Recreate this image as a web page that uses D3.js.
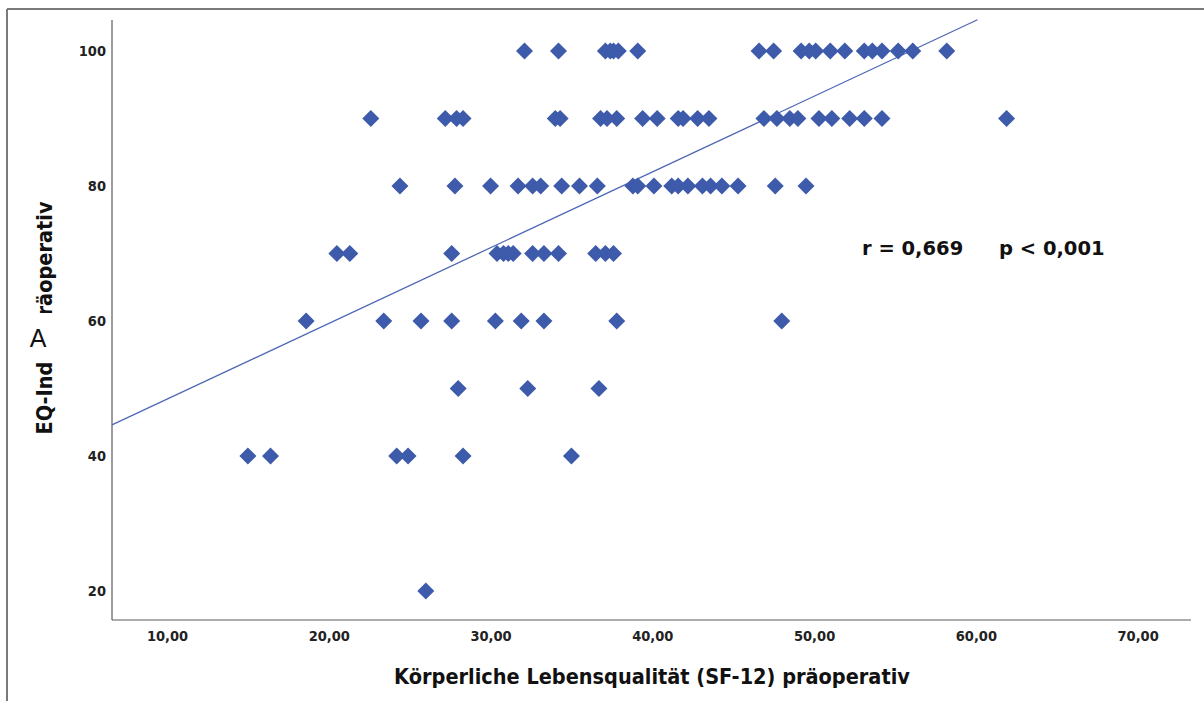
<!DOCTYPE html>
<html>
<head>
<meta charset="utf-8">
<script src="https://cdn.jsdelivr.net/npm/d3@7"></script>
<style>
  body { margin: 0; background: #fff; }
  svg { display: block; }
  .tick text { font-family: "DejaVu Sans Condensed", "DejaVu Sans", sans-serif; font-stretch: condensed; font-weight: bold; font-size: 14.5px; fill: #222; }
  .title { font-family: "DejaVu Sans Condensed", "DejaVu Sans", sans-serif; font-stretch: condensed; font-weight: bold; font-size: 21.5px; fill: #111; }
  .stat { font-family: "DejaVu Sans", sans-serif; font-weight: bold; font-size: 19.5px; fill: #111; }
</style>
</head>
<body>
<svg id="chart" width="1204" height="701"></svg>
<script>
// EQ-Index Stufen und die dazugehoerigen SF-12 Werte
const eqLevels = [100, 90, 80, 70, 60, 50, 40, 20];
const sf12At100 = [32.1, 34.2, 37.1, 37.4, 37.6, 37.9, 39.1, 46.6, 47.5, 49.2, 49.7, 50.1, 51.0, 51.9, 53.1, 53.6, 54.2, 55.2, 56.1, 58.2];
const sf12At90 = [22.6, 27.2, 27.9, 28.3, 34.0, 34.3, 36.8, 37.2, 37.8, 39.4, 40.3, 41.6, 41.9, 42.8, 43.5, 46.9, 47.7, 48.5, 49.0, 50.3, 51.1, 52.2, 53.1, 54.2, 61.9];
const sf12At80 = [24.4, 27.8, 30.0, 31.7, 32.6, 33.1, 34.4, 35.5, 36.6, 38.8, 39.1, 40.1, 41.2, 41.6, 42.2, 43.1, 43.6, 44.3, 45.3, 47.6, 49.5];
const sf12At70 = [20.5, 21.3, 27.6, 30.4, 30.8, 31.1, 31.4, 32.6, 33.3, 34.2, 36.5, 37.1, 37.6];
const sf12At60 = [18.6, 23.4, 25.7, 27.6, 30.3, 31.9, 33.3, 37.8, 48.0];
const sf12At50 = [28.0, 32.3, 36.7];
const sf12At40 = [15.0, 16.4, 24.2, 24.9, 28.3, 35.0];
const sf12At20 = [26.0];

const xTicks = [10, 20, 30, 40, 50, 60, 70];
const yTicks = [20, 40, 60, 80, 100];

// Regressionsgerade
const fitIntercept = 37.2;
const fitSlope = 1.122;
const fitRange = [6.6, 60.1];

const xTitle = "Körperliche Lebensqualität (SF-12) präoperativ";
const yTitle = "EQ-Index präoperativ";
const statR = "r = 0,669";
const statP = "p < 0,001";

// Punkte zusammenbauen
const rows = [sf12At100, sf12At90, sf12At80, sf12At70, sf12At60, sf12At50, sf12At40, sf12At20];
const points = [];
rows.forEach(function (row, i) {
    row.forEach(function (v) {
        points.push({ x: v, y: eqLevels[i] });
    });
});

const svg = d3.select("#chart");

const x = d3.scaleLinear().domain([6.6, 73.3]).range([112, 1191]);
const y = d3.scaleLinear().domain([15.7, 104.6]).range([620, 20]);

const de = d3.formatLocale({ decimal: ",", thousands: ".", grouping: [3], currency: ["", " €"] });

// Rahmen
svg.append("line").attr("x1", 7).attr("x2", 1204).attr("y1", 9).attr("y2", 9)
    .attr("stroke", "#7a7a7a").attr("stroke-width", 2);
svg.append("line").attr("x1", 7).attr("x2", 7).attr("y1", 9).attr("y2", 701)
    .attr("stroke", "#7a7a7a").attr("stroke-width", 2);

// Achsen
const xAxis = svg.append("g")
    .attr("transform", "translate(0,620)")
    .call(d3.axisBottom(x).tickValues(xTicks).tickSize(0).tickPadding(11).tickFormat(de.format(".2f")));
const yAxis = svg.append("g")
    .attr("transform", "translate(112,0)")
    .call(d3.axisLeft(y).tickValues(yTicks).tickSize(0).tickPadding(6).tickFormat(d3.format("d")));

[xAxis, yAxis].forEach(function (g) {
    g.select(".domain").attr("stroke", "#5a5a5a").attr("stroke-width", 1.2);
});
// Achsenlinien ohne Ueberstand
xAxis.select(".domain").attr("d", "M112,0H1191");
yAxis.select(".domain").attr("d", "M0,20V620");

// Regressionslinie
svg.append("line")
    .attr("x1", x(fitRange[0])).attr("y1", y(fitIntercept + fitSlope * fitRange[0]))
    .attr("x2", x(fitRange[1])).attr("y2", y(fitIntercept + fitSlope * fitRange[1]))
    .attr("stroke", "#4d68b6").attr("stroke-width", 1.3);

// Rauten
const r = 8.5;
svg.append("g").selectAll("path")
    .data(points)
    .enter().append("path")
    .attr("d", "M0," + (-r) + "L" + r + ",0L0," + r + "L" + (-r) + ",0Z")
    .attr("transform", function (d) { return "translate(" + x(d.x) + "," + y(d.y) + ")"; })
    .attr("fill", "#3d5aab");

// Achsentitel
svg.append("text").attr("class", "title")
    .attr("x", 652).attr("y", 684)
    .attr("text-anchor", "middle")
    .text(xTitle);
svg.append("text").attr("class", "title")
    .attr("transform", "translate(52,318) rotate(-90)")
    .attr("text-anchor", "middle")
    .text(yTitle);

// Statistik
svg.append("text").attr("class", "stat").attr("x", 862).attr("y", 255).text(statR);
svg.append("text").attr("class", "stat").attr("x", 999).attr("y", 255).text(statP);

// weisses Feld mit "A"
svg.append("rect").attr("x", 9).attr("y", 313).attr("width", 51).attr("height", 48).attr("fill", "#fff");
svg.append("text")
    .attr("x", 38).attr("y", 347)
    .attr("text-anchor", "middle")
    .style("font-family", "Liberation Sans, Arial, sans-serif")
    .style("font-size", "25px")
    .style("fill", "#111")
    .text("A");
</script>
</body>
</html>
